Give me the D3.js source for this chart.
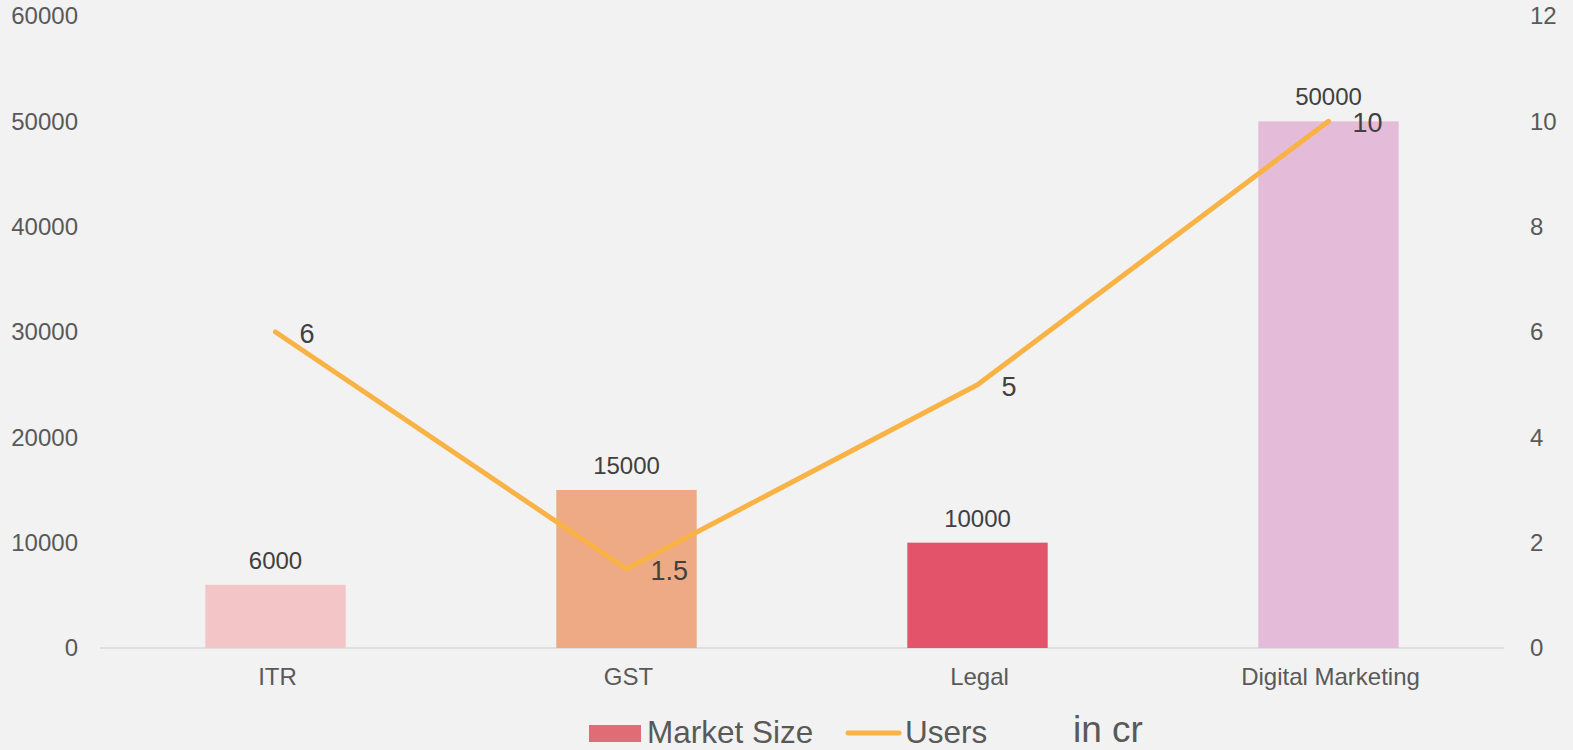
<!DOCTYPE html>
<html>
<head>
<meta charset="utf-8">
<script src="https://cdn.jsdelivr.net/npm/d3@7"></script>
<style>
  body { margin: 0; background: #f2f2f2; }
  svg { display: block; font-family: "Liberation Sans", Arial, sans-serif; }
</style>
</head>
<body>
<svg width="1573" height="750"></svg>
<script>
var categories = ["ITR", "GST", "Legal", "Digital Marketing"];
var marketSize = [6000, 15000, 10000, 50000];
var users = [6, 1.5, 5, 10];
var barColors = ["#f4c5c6", "#edaa84", "#e3546a", "#e4bcd9"];
var leftTicks = [0, 10000, 20000, 30000, 40000, 50000, 60000];
var rightTicks = [0, 2, 4, 6, 8, 10, 12];

var svg = d3.select("svg"),
    width = +svg.attr("width"),
    height = +svg.attr("height");

svg.append("rect").attr("width", width).attr("height", height).attr("fill", "#f2f2f2");

var x = d3.scaleBand().domain(categories).range([100, 1504]).paddingInner(0.6).paddingOuter(0.3);
var yL = d3.scaleLinear().domain([0, 60000]).range([648, 16]);
var yR = d3.scaleLinear().domain([0, 12]).range([648, 16]);
var cx = (d, i) => x(categories[i]) + x.bandwidth() / 2;

// left axis labels
svg.append("g").selectAll("text")
  .data(leftTicks)
  .join("text")
  .attr("x", 78)
  .attr("y", d => yL(d))
  .attr("dy", "0.35em")
  .attr("text-anchor", "end")
  .attr("fill", "#595959")
  .style("font-size", "24px")
  .text(d => d);

// right axis labels
svg.append("g").selectAll("text")
  .data(rightTicks)
  .join("text")
  .attr("x", 1530)
  .attr("y", d => yR(d))
  .attr("dy", "0.35em")
  .attr("fill", "#595959")
  .style("font-size", "24px")
  .text(d => d);

// baseline
svg.append("line")
  .attr("x1", 100).attr("x2", 1504)
  .attr("y1", yL(0)).attr("y2", yL(0))
  .attr("stroke", "#d9d9d9").attr("stroke-width", 1.5);

// category labels
svg.append("g").selectAll("text")
  .data(categories)
  .join("text")
  .attr("x", (d, i) => cx(d, i) + 2)
  .attr("y", 685)
  .attr("text-anchor", "middle")
  .attr("fill", "#595959")
  .style("font-size", "24px")
  .text(d => d);

// bars
svg.append("g").selectAll("rect")
  .data(marketSize)
  .join("rect")
  .attr("x", (d, i) => x(categories[i]))
  .attr("y", d => yL(d))
  .attr("width", x.bandwidth())
  .attr("height", d => yL(0) - yL(d))
  .attr("fill", (d, i) => barColors[i]);

svg.append("g").selectAll("text")
  .data(marketSize)
  .join("text")
  .attr("x", cx)
  .attr("y", d => yL(d) - 16)
  .attr("text-anchor", "middle")
  .attr("fill", "#404040")
  .style("font-size", "24px")
  .text(d => d);

// users line
var line = d3.line()
  .x(cx)
  .y(d => yR(d));

svg.append("path")
  .datum(users)
  .attr("d", line)
  .attr("fill", "none")
  .attr("stroke", "#f9b244")
  .attr("stroke-width", 5)
  .attr("stroke-linecap", "round")
  .attr("stroke-linejoin", "round");

svg.append("g").selectAll("text")
  .data(users)
  .join("text")
  .attr("x", (d, i) => cx(d, i) + 24)
  .attr("y", d => yR(d) + 11)
  .attr("fill", "#404040")
  .style("font-size", "27px")
  .text(d => d);

// legend
var lg = svg.append("g");
lg.append("rect").attr("x", 589).attr("y", 725).attr("width", 52).attr("height", 17).attr("fill", "#e06c75");
lg.append("text").attr("x", 647).attr("y", 743).attr("fill", "#595959").style("font-size", "31.5px").text("Market Size");
lg.append("line").attr("x1", 848).attr("x2", 899).attr("y1", 733).attr("y2", 733)
  .attr("stroke", "#f9b244").attr("stroke-width", 5).attr("stroke-linecap", "round");
lg.append("text").attr("x", 905).attr("y", 743).attr("fill", "#595959").style("font-size", "31.5px").text("Users");
svg.append("text").attr("x", 1073).attr("y", 742).attr("fill", "#595959").style("font-size", "37px").text("in cr");
</script>
</body>
</html>
